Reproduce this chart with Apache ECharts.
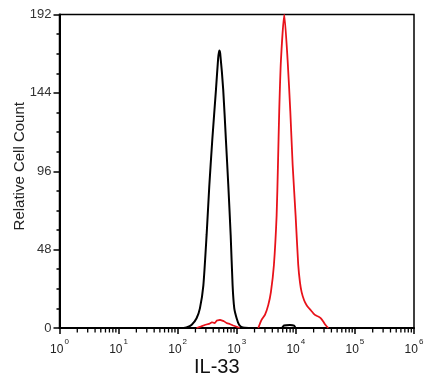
<!DOCTYPE html>
<html>
<head>
<meta charset="utf-8">
<script src="https://cdn.jsdelivr.net/npm/echarts@6/dist/echarts.min.js"></script>
<style>html,body{margin:0;padding:0;background:#fff}#c{width:437px;height:390px}</style>
</head>
<body>
<div id="c"></div>
<script>
// ---- data (x = fluorescence intensity, y = relative cell count) ----
const blackX = [1, 100, 126, 141, 173, 209, 238, 272, 309, 343, 385, 445, 484, 506, 525, 590, 656, 718, 789, 851, 908, 995, 1096, 1259, 1585, 5754, 6310, 7943, 9333, 10000, 1000000];
const blackY = [0, 0, 0, 0.3, 2, 6, 12, 26, 57, 87, 115, 146, 165, 170, 168, 146, 115, 88, 57, 26, 12, 6, 2, 0.3, 0, 0, 1.5, 1.8, 1.5, 0, 0];

const redBumpX = [209, 251, 295, 339, 380, 427, 457, 490, 520, 550, 603, 676, 759, 871, 1000, 1122];
const redBumpY = [0, 1, 2, 2.5, 3.5, 3, 4.5, 4, 5, 4, 4.2, 3, 2.5, 1.5, 0.8, 0];

const redMainX = [2312, 2630, 2999, 3412, 3784, 4256, 4732, 4977, 5236, 5598, 6368, 7261, 8054, 8831, 9908, 10965, 11749, 12531, 13804, 15241, 17783, 21038, 23988, 26303, 29107, 31623, 35481];
const redMainY = [0, 5, 8, 14, 22, 38.6, 69, 99, 133, 164, 192, 164, 133, 100, 69, 39, 28, 22, 17, 14, 11, 8, 7, 6, 4, 2, 0];

const yTicks = [0, 48, 96, 144, 192];
const decades = [1, 10, 100, 1000, 10000, 100000];
const minorMult = [2, 3, 4, 5, 6, 7, 8, 9];

const zip = (xs, ys) => xs.map((x, i) => [x, ys[i]]);
const minorTicks = [];
decades.forEach(d => minorMult.forEach(m => minorTicks.push([d * m, 0])));

const chart = echarts.init(document.getElementById('c'), null, {renderer: 'canvas'});
chart.setOption({
  animation: false,
  backgroundColor: '#fff',
  grid: {left: 59.5, right: 23, top: 14.5, bottom: 62, containLabel: false, outerBoundsMode: 'none',
    show: true, borderColor: '#000', borderWidth: 1.5, backgroundColor: 'transparent'},
  xAxis: {
    type: 'log', logBase: 10, min: 1, max: 1000000,
    axisLine: {show: true, lineStyle: {color: '#000', width: 2}},
    axisTick: {show: true, length: 6, lineStyle: {color: '#000', width: 1.5}},
    splitLine: {show: false},
    axisLabel: {
      margin: 10,
      formatter: v => '{b|10}{s|' + Math.round(Math.log10(v)) + '}',
      rich: {
        b: {fontSize: 12, color: '#222', fontFamily: 'Liberation Sans', padding: [6, 0, 0, 0], verticalAlign: 'bottom'},
        s: {fontSize: 8, color: '#222', fontFamily: 'Liberation Sans', verticalAlign: 'top', padding: [0, 0, 0, 1]}
      }
    }
  },
  yAxis: {
    type: 'value', min: 0, max: 192, interval: 48,
    name: 'Relative Cell Count', nameLocation: 'middle', nameGap: 32, nameMoveOverlap: false,
    nameTextStyle: {fontSize: 15, color: '#222', fontFamily: 'Liberation Sans', padding: [0, 0, 0, 10]},
    axisLine: {show: true, lineStyle: {color: '#000', width: 2}},
    axisTick: {show: true, length: 6, lineStyle: {color: '#000', width: 1.5}},
    minorTick: {show: true, splitNumber: 4, length: 3, lineStyle: {color: '#000', width: 1.5}},
    splitLine: {show: false},
    axisLabel: {margin: 8, fontSize: 13, color: '#333', fontFamily: 'Liberation Sans',
      formatter: v => yTicks.includes(v) ? String(v) : ''}
  },
  graphic: [{
    type: 'text', left: 194, top: 357,
    style: {text: 'IL-33', fontSize: 20, fill: '#111', fontFamily: 'Liberation Sans'}
  }],
  series: [
    {type: 'custom', data: minorTicks, clip: false, silent: true, z: 1,
      renderItem: (params, api) => {
        const p = api.coord([api.value(0), 0]);
        return {type: 'line', shape: {x1: p[0], y1: p[1], x2: p[0], y2: p[1] + 4.5}, style: {stroke: '#000', lineWidth: 1.3}};
      }},
    {type: 'line', data: zip(blackX, blackY), showSymbol: false, smooth: 0.2, lineStyle: {color: '#000', width: 2}, z: 3},
    {type: 'line', data: zip(redBumpX, redBumpY), showSymbol: false, lineStyle: {color: '#e8121a', width: 1.7}, z: 4},
    {type: 'line', data: zip(redMainX, redMainY), showSymbol: false, smooth: 0.2, lineStyle: {color: '#e8121a', width: 1.8}, z: 4}
  ]
});
</script>
</body>
</html>
